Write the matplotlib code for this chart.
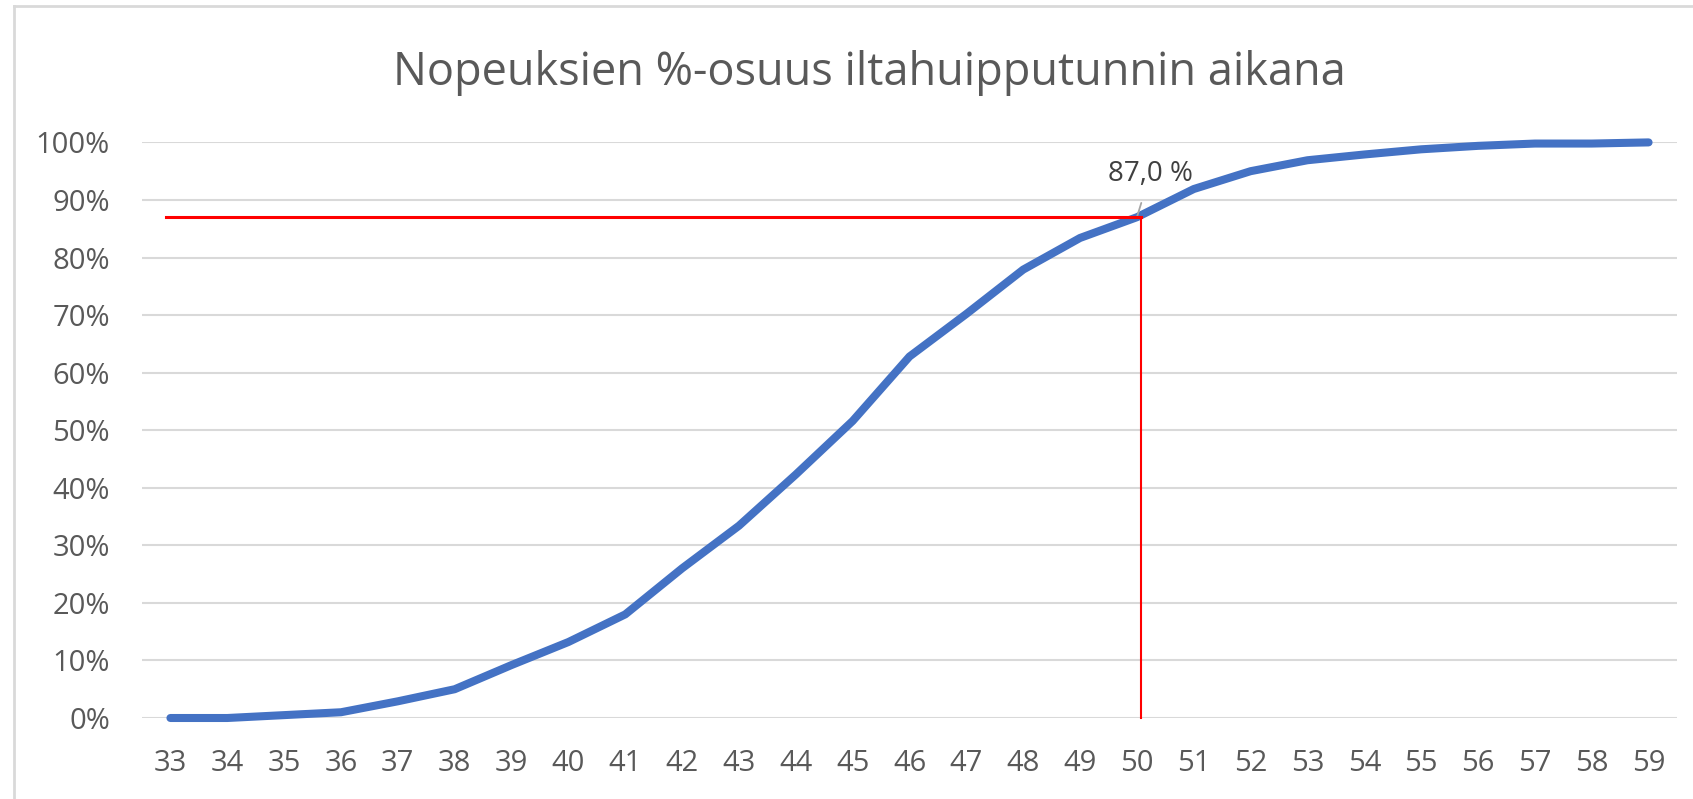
import matplotlib
matplotlib.use("Agg")
import matplotlib.pyplot as plt
from matplotlib.lines import Line2D
from matplotlib.ticker import PercentFormatter

# speeds (km/h) and cumulative share
speeds = list(range(33, 60))
share = [0.000, 0.000, 0.005, 0.010, 0.029, 0.050, 0.092, 0.132, 0.180, 0.260,
         0.334, 0.423, 0.516, 0.628, 0.702, 0.779, 0.834, 0.870, 0.919, 0.950,
         0.969, 0.979, 0.988, 0.994, 0.998, 0.998, 1.000]

marked_speed = 50
marked_share = 0.870
marked_label = "87,0 %"
title = "Nopeuksien %-osuus iltahuipputunnin aikana"

plt.rcParams['font.family'] = ['Open Sans', 'DejaVu Sans']
text_color = "#595959"

fig = plt.figure(figsize=(16.93, 7.99), dpi=100)
ax = fig.add_axes([142 / 1693, 1 - 718 / 799, 1535 / 1693, (718 - 142.4) / 799])

# chart area border (left and top visible in the screenshot)
fig.add_artist(Line2D([14 / 1693, 14 / 1693], [0, 1 - 6 / 799], transform=fig.transFigure,
                      color="#D9D9D9", lw=2))
fig.add_artist(Line2D([14 / 1693, 1], [1 - 6 / 799, 1 - 6 / 799], transform=fig.transFigure,
                      color="#D9D9D9", lw=2))

ax.plot(speeds, share, color="#4472C4", lw=5.8, solid_capstyle="round",
        solid_joinstyle="round", clip_on=False, zorder=3)

# red guide lines to the marked point
ax.plot([speeds[0] - 0.07, marked_speed + 0.08], [marked_share, marked_share],
        color="#FF0000", lw=2.2, zorder=4, clip_on=False)
ax.plot([marked_speed + 0.08, marked_speed + 0.08], [0, marked_share],
        color="#FF0000", lw=1.5, zorder=4, clip_on=False)

ax.annotate(marked_label, xy=(marked_speed, marked_share), xytext=(9.5, 31),
            textcoords="offset points", ha="center", va="center",
            fontsize=20, color="#404040",
            arrowprops=dict(arrowstyle="-", color="#A6A6A6", lw=1.3,
                            shrinkA=9, shrinkB=0))

ax.set_xlim(speeds[0] - 0.5, speeds[-1] + 0.5)
ax.set_ylim(0, 1)
ax.set_xticks(speeds)
ax.set_yticks([i / 10 for i in range(11)])
ax.yaxis.set_major_formatter(PercentFormatter(1.0, decimals=0))
ax.grid(axis="y", color="#D9D9D9", lw=1.5)
ax.set_axisbelow(True)
for s in ax.spines.values():
    s.set_visible(False)
ax.tick_params(length=0, labelsize=21, labelcolor=text_color)
ax.tick_params(axis="x", pad=22)
ax.tick_params(axis="y", pad=23)

fig.text(869 / 1693, 1 - 73 / 799, title, ha="center", va="center",
         fontsize=32.5, color=text_color)

fig.savefig("out.png", dpi=100)
